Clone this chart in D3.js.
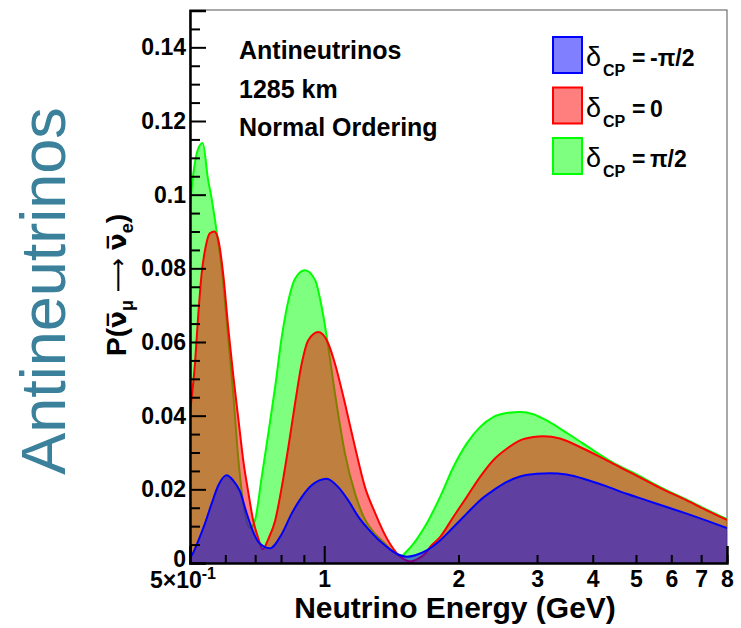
<!DOCTYPE html>
<html>
<head>
<meta charset="utf-8">
<script src="https://cdn.jsdelivr.net/npm/d3@7"></script>
<style>
  body { margin: 0; background: #fff; }
  svg { display: block; }
  text { font-family: "Liberation Sans", Arial, Helvetica, sans-serif; }
</style>
</head>
<body>
<svg id="chart" width="741" height="628"></svg>
<script>
// ---------- data ----------
const energyGreen = [0.5,0.509,0.52,0.534,0.549,0.559,0.569,0.577,0.589,0.607,0.625,0.642,0.664,0.682,0.699,0.724,0.749,0.776,0.803,0.831,0.86,0.905,0.954,0.987,1.013,1.057,1.113,1.172,1.234,1.3,1.356,1.404,1.465,1.49,1.531,1.584,1.697,1.818,1.947,2.086,2.234,2.393,2.565,2.748,2.943,3.153,3.377,3.617,4.01,4.448,4.93,5.66,6.497,7.203,8.0];
const probGreen   = [0.097,0.106,0.112,0.114,0.104,0.099,0.093,0.088,0.080,0.063,0.046,0.028,0.0134,0.0095,0.0115,0.0233,0.0351,0.0478,0.0614,0.0713,0.0772,0.0795,0.0768,0.0695,0.0614,0.046,0.0297,0.0189,0.0118,0.0079,0.0058,0.0039,0.0021,0.0019,0.0032,0.0052,0.0107,0.0179,0.026,0.0324,0.0369,0.0396,0.0407,0.041,0.0404,0.0387,0.0365,0.0342,0.0306,0.0272,0.0245,0.0206,0.0172,0.0145,0.0119];

const energyRed = [0.5,0.513,0.522,0.531,0.542,0.554,0.567,0.579,0.594,0.609,0.625,0.642,0.658,0.676,0.693,0.711,0.728,0.749,0.776,0.803,0.831,0.86,0.89,0.921,0.97,1.021,1.057,1.113,1.172,1.234,1.3,1.356,1.404,1.453,1.504,1.557,1.61,1.697,1.726,1.818,1.947,2.086,2.234,2.393,2.565,2.748,2.943,3.099,3.377,3.744,4.153,4.602,4.93,5.66,6.497,7.203,8.0];
const probRed   = [0.041,0.0542,0.0677,0.0786,0.0858,0.0895,0.09,0.0876,0.078,0.064,0.051,0.039,0.028,0.019,0.0115,0.0068,0.0037,0.0065,0.0115,0.0206,0.0315,0.0433,0.0541,0.0605,0.0627,0.0596,0.0541,0.0433,0.0315,0.0206,0.0136,0.0086,0.0052,0.0027,0.0011,0.0004,0.0009,0.003,0.0043,0.007,0.0125,0.0179,0.0233,0.0279,0.031,0.0333,0.0342,0.0344,0.0338,0.0315,0.0288,0.026,0.0242,0.0204,0.017,0.0143,0.0117];

const energyBlue = [0.5,0.504,0.522,0.54,0.559,0.579,0.604,0.625,0.647,0.67,0.693,0.718,0.756,0.803,0.845,0.89,0.937,1.013,1.075,1.132,1.192,1.256,1.322,1.356,1.404,1.465,1.531,1.6,1.697,1.818,1.947,2.086,2.234,2.393,2.565,2.748,2.995,3.208,3.495,3.876,4.299,4.764,5.284,5.859,6.497,7.203,8.0];
const probBlue   = [0.0015,0.002,0.0061,0.0107,0.0161,0.0211,0.0238,0.0224,0.0195,0.0135,0.0084,0.0052,0.004,0.0079,0.0134,0.0179,0.0211,0.0229,0.0206,0.017,0.0126,0.0092,0.0064,0.0052,0.0037,0.0023,0.0017,0.0021,0.0034,0.0061,0.0097,0.0134,0.017,0.0197,0.022,0.0235,0.0242,0.0244,0.024,0.0226,0.0208,0.0188,0.017,0.0152,0.0134,0.0115,0.0095];

const seriesNames  = ["-π/2", "0", "π/2"];          // legend order: blue, red, green
const seriesColors = ["#0000ff", "#ff0000", "#00ff00"];

const yTickValues = [0, 0.02, 0.04, 0.06, 0.08, 0.1, 0.12, 0.14];
const yTickLabels = ["0", "0.02", "0.04", "0.06", "0.08", "0.1", "0.12", "0.14"];
const xMajorTicks = [0.5, 1];
const xMinorTicks = [0.6, 0.7, 0.8, 0.9, 2, 3, 4, 5, 6, 7, 8];
const xTickValues = [1, 2, 3, 4, 5, 6, 7, 8];
const xTickLabels = ["1", "2", "3", "4", "5", "6", "7", "8"];
const annotationLines = ["Antineutrinos", "1285 km", "Normal Ordering"];

// ---------- layout ----------
const L = 190, R = 727, T = 10, B = 563;
const svg = d3.select("#chart");
const x = d3.scaleLog().domain([0.5, 8]).range([L, R]);
const y = d3.scaleLinear().domain([0, 0.15]).range([B, 10.5]);

svg.append("defs").append("clipPath").attr("id", "clip")
  .append("rect").attr("x", L).attr("y", T).attr("width", R - L).attr("height", B - T);

// big side label
svg.append("text")
  .attr("transform", "translate(65,291) rotate(-90)")
  .attr("text-anchor", "middle")
  .style("font-size", "63px")
  .style("fill", "#3b819b")
  .text("Antineutrinos");

// frame
svg.append("rect").attr("x", L).attr("y", T).attr("width", R - L).attr("height", B - T)
  .attr("fill", "none").attr("stroke", "#555").attr("stroke-width", 1);

// ---------- curves ----------
const series = [
  { e: energyGreen, p: probGreen, color: seriesColors[2] },
  { e: energyRed,   p: probRed,   color: seriesColors[1] },
  { e: energyBlue,  p: probBlue,  color: seriesColors[0] }
];
const area = d3.area().x(d => x(d[0])).y0(y(0)).y1(d => y(d[1])).curve(d3.curveMonotoneX);
const line = d3.line().x(d => x(d[0])).y(d => y(d[1])).curve(d3.curveMonotoneX);
const plot = svg.append("g").attr("clip-path", "url(#clip)");
series.forEach(s => {
  const pts = s.e.map((e, i) => [e, s.p[i]]);
  plot.append("path").attr("d", area(pts)).attr("fill", s.color).attr("fill-opacity", 0.5);
  plot.append("path").attr("d", line(pts)).attr("fill", "none").attr("stroke", s.color).attr("stroke-width", 2);
});

// ---------- axes ----------
const fontTick = "23px";
const yMinor = d3.range(0, 0.1501, 0.005).filter(v => !yTickValues.some(t => Math.abs(t - v) < 1e-9));
svg.append("g").attr("transform", `translate(${L},0)`)
  .call(d3.axisLeft(y).tickValues(yMinor).tickSize(-10).tickFormat(""))
  .call(g => g.select(".domain").remove())
  .call(g => g.selectAll("line").attr("stroke", "#000").attr("stroke-width", 2));
svg.append("g").attr("transform", `translate(${L},0)`)
  .call(d3.axisLeft(y).tickValues(yTickValues).tickSize(-16).tickPadding(4)
        .tickFormat((d, i) => yTickLabels[i]))
  .call(g => g.select(".domain").attr("stroke", "#000").attr("stroke-width", 2.5))
  .call(g => g.selectAll("line").attr("stroke", "#000").attr("stroke-width", 2))
  .call(g => g.selectAll("text").style("font-size", fontTick).style("font-weight", "bold")
        .style("font-family", '"Liberation Sans", Arial, sans-serif').attr("fill", "#000"))
  .call(g => g.selectAll(".tick").filter(d => d === 0).select("text").attr("y", -4));

svg.append("g").attr("transform", `translate(0,${B})`)
  .call(d3.axisBottom(x).tickValues(xMinorTicks).tickSize(-8).tickFormat(""))
  .call(g => g.select(".domain").remove())
  .call(g => g.selectAll("line").attr("stroke", "#000").attr("stroke-width", 2));
svg.append("g").attr("transform", `translate(0,${B})`)
  .call(d3.axisBottom(x).tickValues(xMajorTicks).tickSize(-17).tickFormat(""))
  .call(g => g.select(".domain").attr("stroke", "#000").attr("stroke-width", 2.5))
  .call(g => g.selectAll("line").attr("stroke", "#000").attr("stroke-width", 2));
svg.append("g").attr("transform", `translate(0,${B})`)
  .call(d3.axisBottom(x).tickValues(xTickValues).tickSize(0).tickPadding(8)
        .tickFormat((d, i) => xTickLabels[i]))
  .call(g => g.select(".domain").remove())
  .call(g => g.selectAll("text").style("font-size", fontTick).style("font-weight", "bold")
        .style("font-family", '"Liberation Sans", Arial, sans-serif').attr("fill", "#000"));
const lab0 = svg.append("text").attr("x", x(0.5) - 7).attr("y", B + 25)
  .attr("text-anchor", "middle").style("font-size", fontTick).style("font-weight", "bold");
lab0.append("tspan").text("5×10");
lab0.append("tspan").attr("dy", -9).style("font-size", "16px").text("-1");

// axis titles
svg.append("text").attr("x", 455).attr("y", 618).attr("text-anchor", "middle")
  .style("font-size", "30px").style("font-weight", "bold").text("Neutrino Energy (GeV)");

const yt = svg.append("text").attr("transform", "translate(126,285) rotate(-90)")
  .attr("text-anchor", "middle").style("font-size", "28px").style("font-weight", "bold");
yt.append("tspan").text("P(");
yt.append("tspan").style("font-family", '"DejaVu Sans"').style("font-size", "25px").text("ν\u0305");
yt.append("tspan").attr("dy", 7).style("font-size", "18px").text("μ");
yt.append("tspan").attr("dy", -7).style("font-family", '"DejaVu Sans"').style("font-weight", "normal")
  .style("font-size", "24px").text(" \u27F6 ");
yt.append("tspan").style("font-family", '"DejaVu Sans"').style("font-size", "25px").text("ν\u0305");
yt.append("tspan").attr("dy", 7).style("font-size", "18px").text("e");
yt.append("tspan").attr("dy", -7).text(")");

// annotations
annotationLines.forEach((t, i) => {
  svg.append("text").attr("x", 239).attr("y", 59 + i * 38.5)
    .style("font-size", "25px").style("font-weight", "bold").text(t);
});

// legend
seriesNames.forEach((name, i) => {
  const top = 37 + i * 50.5;
  svg.append("rect").attr("x", 553).attr("y", top).attr("width", 29).attr("height", 36)
    .attr("fill", seriesColors[i]).attr("fill-opacity", 0.5)
    .attr("stroke", seriesColors[i]).attr("stroke-width", 2);
  const t = svg.append("text").attr("y", top + 29)
    .style("font-weight", "bold").style("font-size", "23px");
  t.append("tspan").attr("x", 586).style("font-size", "27px").style("font-weight", "normal").text("δ");
  t.append("tspan").attr("x", 603).attr("dy", 10).style("font-size", "16px").text("CP");
  t.append("tspan").attr("x", 632).attr("dy", -10).text("=");
  t.append("tspan").attr("x", 650).text(name);
});
</script>
</body>
</html>
